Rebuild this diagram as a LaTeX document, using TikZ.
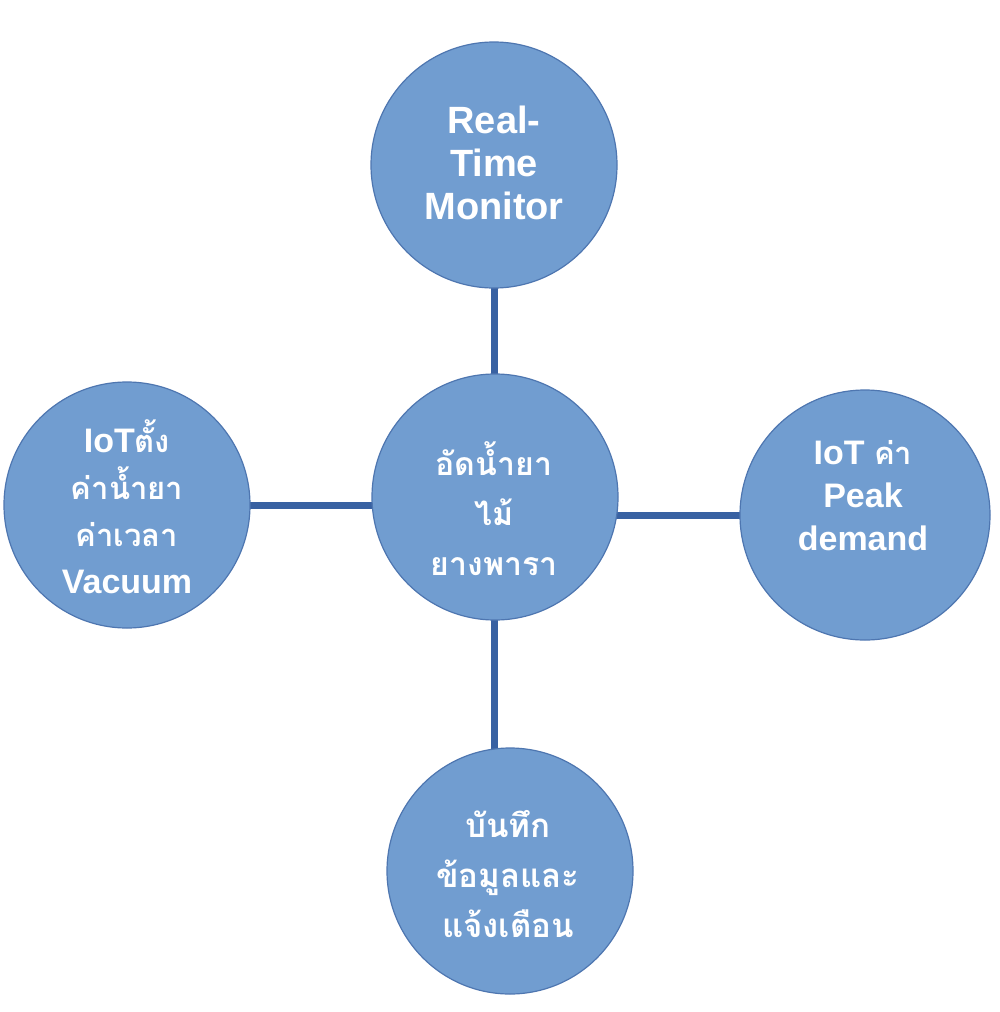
\documentclass[tikz,border=0pt]{standalone}
\usepackage{fontspec}
\setmainfont{Liberation Sans}
\newfontfamily\thai[Script=Thai]{Loma}
\usetikzlibrary{backgrounds}
\definecolor{bfill}{RGB}{113,157,208}
\definecolor{bedge}{RGB}{78,118,176}
\definecolor{blink}{RGB}{56,97,162}
\begin{document}
\begin{tikzpicture}[x=1pt,y=-1pt,
  bub/.style={circle, fill=bfill, draw=bedge, line width=1.2pt, minimum size=246pt, inner sep=0pt},
  link/.style={draw=blink, line width=7pt},
  txt/.style={text=white, align=center, inner sep=0pt, font=\fontsize{34}{43}\selectfont\bfseries},
  thtxt/.style={text=white, align=center, inner sep=0pt, font=\thai\bfseries\fontsize{32}{50}\selectfont}]
\useasboundingbox (0,0) rectangle (1000,1012);
\node[bub] (rt) at (494,165) {};
\node[bub] (hub) at (495,497) {};
\node[bub] (vac) at (127,505) {};
\node[bub, minimum size=250pt] (peak) at (865,515) {};
\node[bub] (log) at (510,871) {};
\begin{scope}[on background layer]
\draw[link] (rt.center) -- (rt.center |- hub.center);
\draw[link] (vac.center) -- (vac.center -| hub.center);
\draw[link] (peak.center) -- (peak.center -| hub.center);
\draw[link] (rt.center |- hub.center) -- (rt.center |- log.center);
\end{scope}
\node[txt, font=\fontsize{38}{43}\selectfont\bfseries] (rtt) at (494,163) {Real-\\Time\\Monitor};
\node[thtxt] (hubt) at (494,509) {อัดน้ำยา\\ไม้\\ยางพารา};
\node[txt, font=\fontsize{34}{47}\selectfont\bfseries] (vact) at (127,507) {IoT{\thai\fontsize{31}{47}\selectfont ตั้ง}\\{\thai\fontsize{31}{47}\selectfont ค่าน้ำยา}\\{\thai\fontsize{31}{47}\selectfont ค่าเวลา}\\Vacuum};
\node[txt] (peakt) at (863,496) {IoT {\thai\fontsize{31}{43}\selectfont ค่า}\\Peak\\demand};
\node[thtxt, font=\thai\bfseries\fontsize{33}{50}\selectfont] (logt) at (508,874) {บันทึก\\ข้อมูลและ\\แจ้งเตือน};
\end{tikzpicture}
\end{document}
